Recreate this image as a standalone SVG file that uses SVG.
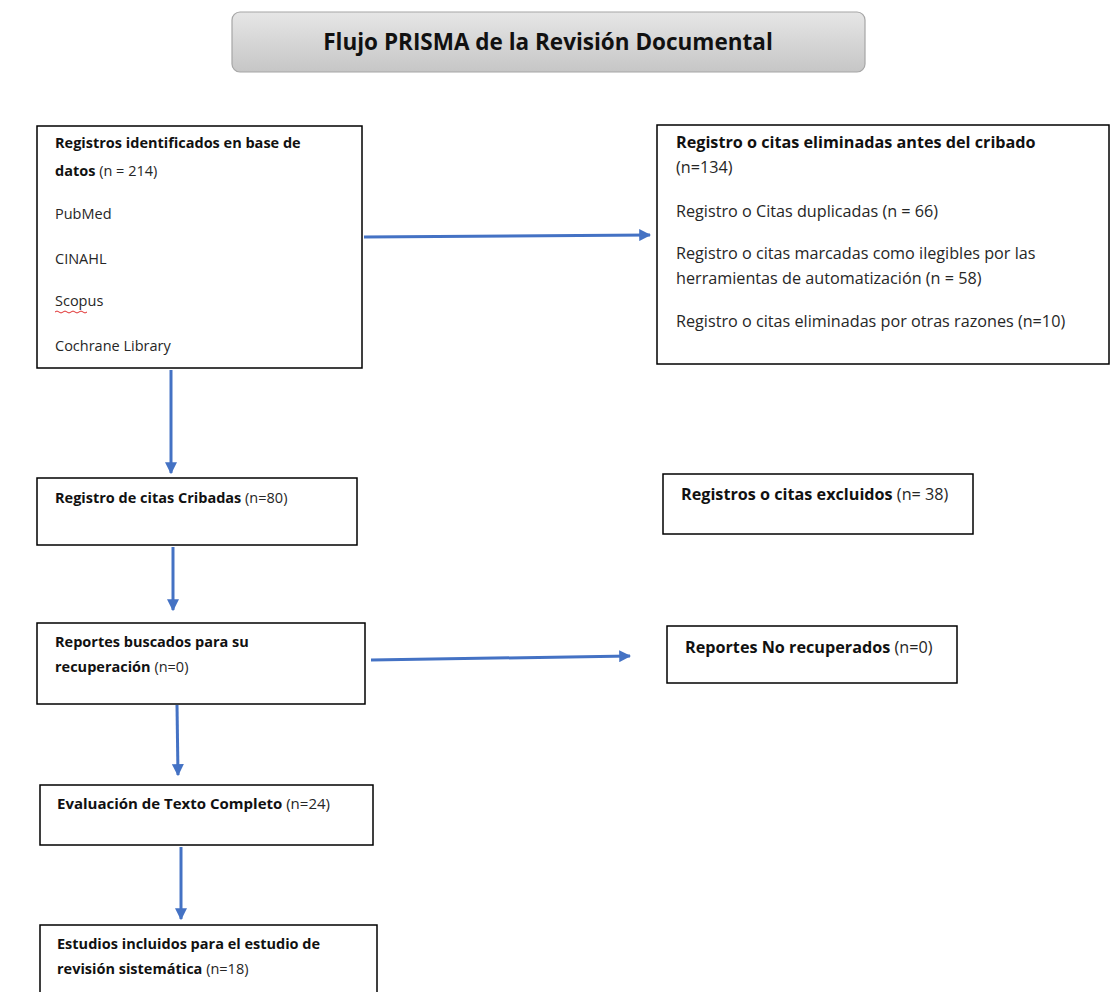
<svg xmlns="http://www.w3.org/2000/svg" width="1110" height="992" viewBox="0 0 1110 992">
<defs>
<linearGradient id="tg" x1="0" y1="0" x2="0" y2="1">
<stop offset="0" stop-color="#e6e6e6"/>
<stop offset="1" stop-color="#c6c6c6"/>
</linearGradient>
<marker id="ah" viewBox="0 0 10 10" refX="9" refY="5" markerWidth="4" markerHeight="4" orient="auto" markerUnits="strokeWidth">
<path d="M0,0 L10,5 L0,10 z" fill="#4472c4"/>
</marker>
<style>
.box{fill:#fff;stroke:#000;stroke-width:1.5}
text{font-family:"Open Sans","Liberation Sans",Arial,sans-serif;font-size:14.5px;fill:#262626}
.r{font-size:16.2px}
.b{font-weight:bold;fill:#111}
.conn{stroke:#4472c4;stroke-width:3;fill:none;marker-end:url(#ah)}
</style>
</defs>
<rect width="1110" height="992" fill="#fff"/>
<g id="title">
<rect x="232" y="12" width="633" height="60" rx="8" fill="url(#tg)" stroke="#a6a6a6" stroke-width="1.2"/>
<text x="548" y="50" text-anchor="middle" class="b" style="font-size:22.5px">Flujo PRISMA de la Revisión Documental</text>
</g>
<g id="connectors">
<line class="conn" x1="364" y1="237" x2="650" y2="235"/>
<line class="conn" x1="171" y1="370" x2="171" y2="473"/>
<line class="conn" x1="173" y1="547" x2="173" y2="610"/>
<line class="conn" x1="371" y1="660" x2="630" y2="656"/>
<line class="conn" x1="177" y1="705" x2="178" y2="775"/>
<line class="conn" x1="181" y1="847" x2="181" y2="919"/>
</g>
<g id="identificados">
<rect class="box" x="37" y="126" width="325" height="242"/>
<text x="55" y="148"><tspan class="b">Registros identificados en base de</tspan></text>
<text x="55" y="176"><tspan class="b">datos</tspan> (n = 214)</text>
<text x="55" y="219">PubMed</text>
<text x="55" y="264">CINAHL</text>
<text x="55" y="306">Scopus</text>
<path d="M55,312 q2,-2 4,0 t4,0 t4,0 t4,0 t4,0 t4,0 t4,0 t4,0" stroke="#e03030" stroke-width="1" fill="none"/>
<text x="55" y="351">Cochrane Library</text>
</g>
<g id="eliminadas">
<rect class="box" x="657" y="125" width="452" height="239"/>
<text class="r" x="676" y="148"><tspan class="b">Registro o citas eliminadas antes del cribado</tspan></text>
<text class="r" x="676" y="173">(n=134)</text>
<text class="r" x="676" y="217">Registro o Citas duplicadas (n = 66)</text>
<text class="r" x="676" y="259">Registro o citas marcadas como ilegibles por las</text>
<text class="r" x="676" y="284">herramientas de automatización (n = 58)</text>
<text class="r" x="676" y="327">Registro o citas eliminadas por otras razones (n=10)</text>
</g>
<g id="cribadas">
<rect class="box" x="37" y="478" width="320" height="67"/>
<text x="55" y="503"><tspan class="b">Registro de citas Cribadas</tspan> (n=80)</text>
</g>
<g id="excluidos">
<rect class="box" x="663" y="474" width="310" height="60"/>
<text class="r" x="681" y="500"><tspan class="b">Registros o citas excluidos</tspan> (n= 38)</text>
</g>
<g id="buscados">
<rect class="box" x="37" y="623" width="328" height="81"/>
<text x="55" y="647"><tspan class="b">Reportes buscados para su</tspan></text>
<text x="55" y="672"><tspan class="b">recuperación</tspan> (n=0)</text>
</g>
<g id="norecuperados">
<rect class="box" x="667" y="626" width="290" height="57"/>
<text class="r" x="685" y="653"><tspan class="b">Reportes No recuperados</tspan> (n=0)</text>
</g>
<g id="evaluacion">
<rect class="box" x="40" y="785" width="333" height="60"/>
<text x="57" y="809" style="font-size:15px"><tspan class="b">Evaluación de Texto Completo</tspan> (n=24)</text>
</g>
<g id="incluidos">
<rect class="box" x="40" y="925" width="337" height="75"/>
<text x="57" y="949"><tspan class="b">Estudios incluidos para el estudio de</tspan></text>
<text x="57" y="974"><tspan class="b">revisión sistemática</tspan> (n=18)</text>
</g>
</svg>
